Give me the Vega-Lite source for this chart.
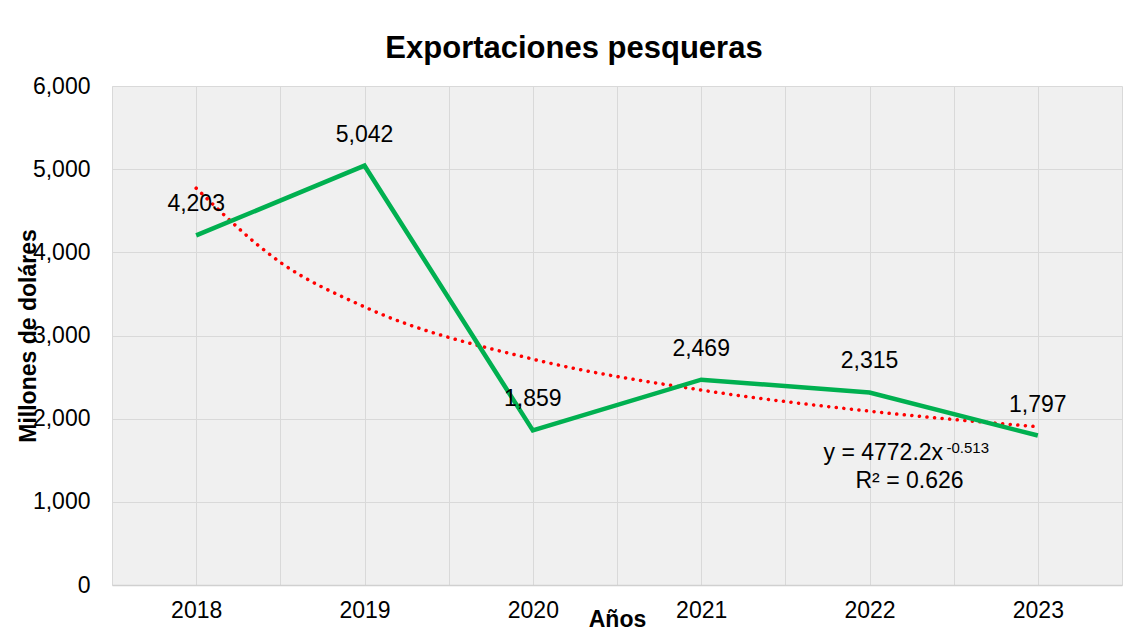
{
  "$schema": "https://vega.github.io/schema/vega-lite/v6.json",
  "width": 1010,
  "height": 499,
  "autosize": "none",
  "padding": {"left": 112, "top": 86, "right": 18, "bottom": 45},
  "background": "white",
  "config": {
    "font": "Liberation Sans",
    "view": {"stroke": null, "fill": "#f0f0f0"}
  },
  "title": {
    "text": "Exportaciones pesqueras",
    "font": "Liberation Sans",
    "fontSize": 31,
    "fontWeight": "bold",
    "color": "#000000",
    "anchor": "middle",
    "frame": "group",
    "dx": -43,
    "baseline": "alphabetic",
    "offset": -14
  },
  "datasets": {
    "exports": [
      {"year": 2018, "value": 4203},
      {"year": 2019, "value": 5042},
      {"year": 2020, "value": 1859},
      {"year": 2021, "value": 2469},
      {"year": 2022, "value": 2315},
      {"year": 2023, "value": 1797}
    ],
    "trend": [
      {"year": 2018, "value": 4772},
      {"year": 2018.5, "value": 3880},
      {"year": 2019, "value": 3344},
      {"year": 2020, "value": 2716},
      {"year": 2021, "value": 2344},
      {"year": 2022, "value": 2090},
      {"year": 2023, "value": 1903}
    ],
    "equation": [
      {"year": 2022, "value": 1503, "main": "y = 4772.2x", "sup": "-0.513"}
    ],
    "r2": [
      {"year": 2022, "value": 1166, "label": "R² = 0.626"}
    ]
  },
  "encoding": {
    "x": {
      "field": "year",
      "type": "quantitative",
      "scale": {"domain": [2017.5, 2023.5], "nice": false, "zero": false},
      "axis": {
        "values": [2017.5, 2018, 2018.5, 2019, 2019.5, 2020, 2020.5, 2021, 2021.5, 2022, 2022.5, 2023, 2023.5],
        "labelExpr": "datum.value % 1 == 0 ? format(datum.value, 'd') : ''",
        "labelOverlap": false,
        "labelFlush": false,
        "labelFont": "Liberation Sans",
        "labelFontSize": 23,
        "labelColor": "#000000",
        "labelPadding": 14,
        "ticks": false,
        "tickSize": 0,
        "grid": true,
        "gridColor": "#d9d9d9",
        "gridWidth": 1,
        "domain": true,
        "domainColor": "#d0d0d0",
        "domainWidth": 1.5,
        "title": "Años",
        "titleFont": "Liberation Sans",
        "titleFontSize": 23,
        "titleFontWeight": "bold",
        "titleColor": "#000000",
        "titleX": 505,
        "titleY": 41,
        "titleAlign": "center",
        "titleBaseline": "alphabetic"
      }
    },
    "y": {
      "field": "value",
      "type": "quantitative",
      "scale": {"domain": [0, 6000], "nice": false},
      "axis": {
        "values": [0, 1000, 2000, 3000, 4000, 5000, 6000],
        "format": ",d",
        "labelFont": "Liberation Sans",
        "labelFontSize": 23,
        "labelColor": "#000000",
        "labelPadding": 22,
        "ticks": false,
        "tickSize": 0,
        "domain": false,
        "grid": true,
        "gridColor": "#d9d9d9",
        "gridWidth": 1,
        "title": "Millones de doláres",
        "titleFont": "Liberation Sans",
        "titleFontSize": 23,
        "titleFontWeight": "bold",
        "titleColor": "#000000",
        "titleAngle": -90,
        "titleX": -77,
        "titleY": 249.5,
        "titleAlign": "center",
        "titleBaseline": "alphabetic"
      }
    }
  },
  "layer": [
    {
      "data": {"name": "trend"},
      "mark": {"type": "line", "color": "#ff0000", "strokeWidth": 3.5, "strokeCap": "round", "strokeDash": [0.1, 7.5], "interpolate": "monotone"}
    },
    {
      "data": {"name": "exports"},
      "mark": {"type": "line", "color": "#00b050", "strokeWidth": 4.5}
    },
    {
      "data": {"name": "exports"},
      "mark": {"type": "text", "font": "Liberation Sans", "fontSize": 23, "color": "#000000", "baseline": "alphabetic", "align": "center", "dy": -24},
      "encoding": {"text": {"field": "value", "type": "quantitative", "format": ",d"}}
    },
    {
      "data": {"name": "equation"},
      "mark": {"type": "text", "font": "Liberation Sans", "fontSize": 23, "color": "#000000", "baseline": "alphabetic", "align": "left", "dx": -46},
      "encoding": {"text": {"field": "main"}}
    },
    {
      "data": {"name": "equation"},
      "mark": {"type": "text", "font": "Liberation Sans", "fontSize": 15, "color": "#000000", "baseline": "alphabetic", "align": "left", "dx": 77, "dy": -7},
      "encoding": {"text": {"field": "sup"}}
    },
    {
      "data": {"name": "r2"},
      "mark": {"type": "text", "font": "Liberation Sans", "fontSize": 23, "color": "#000000", "baseline": "alphabetic", "align": "center", "dx": 40},
      "encoding": {"text": {"field": "label"}}
    }
  ]
}
